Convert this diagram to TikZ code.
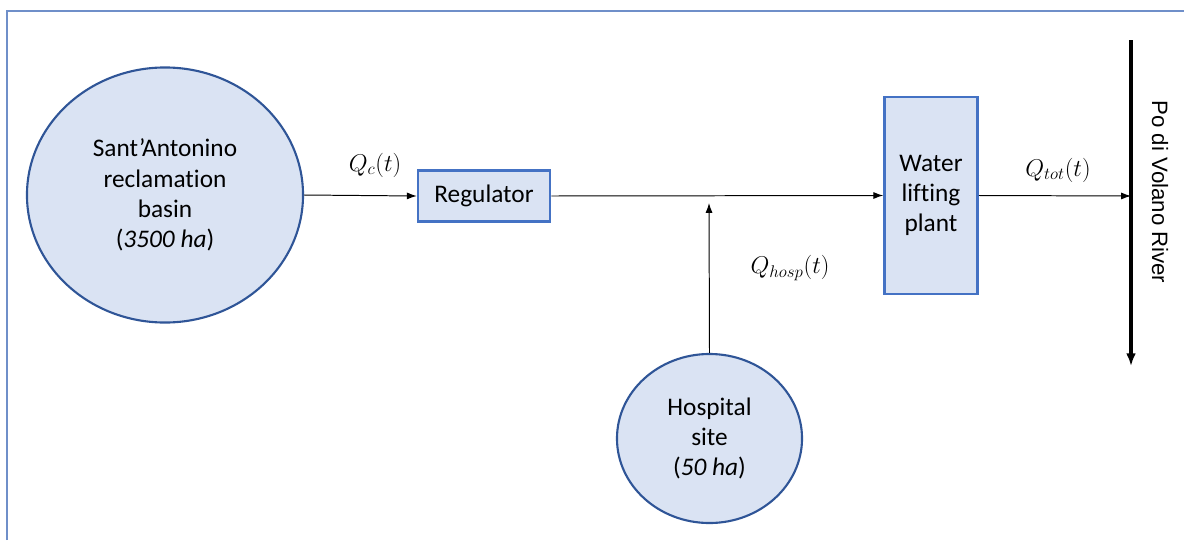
\documentclass[tikz,border=0pt]{standalone}
\usepackage{amsmath}
\usepackage{fontspec}
\setmainfont{Carlito}[Ligatures=NoCommon]
\newfontfamily\riverfont{Liberation Sans}
\usetikzlibrary{shapes.geometric,arrows.meta}

\definecolor{boxfill}{HTML}{DAE3F3}
\definecolor{circline}{HTML}{2F5597}
\definecolor{boxline}{HTML}{4472C4}
\definecolor{frameline}{HTML}{6F8FC9}

\tikzset{
	area/.style={ellipse,draw=circline,line width=1.5pt,fill=boxfill,inner sep=0pt,
		align=center,font=\fontsize{18}{21.5}\selectfont},
	unit/.style={rectangle,draw=boxline,line width=1.8pt,fill=boxfill,inner sep=0pt,
		align=center,font=\fontsize{18}{21.5}\selectfont},
	flow/.style={line width=0.7pt,-{Latex[length=7pt,width=5pt]}},
	flowlabel/.style={font=\fontsize{16.5}{19}\selectfont}
}

\begin{document}
\begin{tikzpicture}[x=0.025cm,y=-0.025cm]
		\useasboundingbox (0,0) rectangle (1184,540);
		% frame (cut at right and bottom)
		\draw[frameline,line width=1pt] (7,540) -- (7,11) -- (1184,11);
		% catchments
		\node[area,minimum width=6.9cm,minimum height=6.375cm] (basin) at (165,195)
			{Sant’Antonino\\reclamation\\basin\\(\textit{3500 ha})};
		\node[area,minimum width=4.625cm,minimum height=4.225cm] (hosp) at (709.5,438.5)
			{Hospital\\site\\(\textit{50 ha})};
		% plants
		\node[unit,minimum width=3.3cm,minimum height=1.275cm] (reg) at (484,196) {Regulator};
		\node[unit,minimum width=2.325cm,minimum height=4.925cm] (plant) at (931,195.5)
			{Water\\lifting\\plant};
		% river
		\coordinate (rivertop) at (1131,40);
		\coordinate (riverbot) at (1131,366);
		\coordinate (riverin) at (1131,196);
		\draw[line width=2.2pt,-{Latex[length=9pt,width=7pt]}] (rivertop) -- (riverbot);
		\node[rotate=-90,font=\riverfont\fontsize{15.8}{18}\selectfont] (rivername) at (1160,192)
			{Po di Volano River};
		% flows
		\coordinate (junction) at (709,203);
		\draw[flow] (basin.east) -- (reg.west);
		\draw[flow] (reg.east) -- (plant.west);
		\draw[flow] (plant.east) -- (riverin);
		\draw[flow] (hosp.north) -- (junction);
		\node[flowlabel] (qc) at (375,165) {$Q_c(t)$};
		\node[flowlabel] (qhosp) at (790,268) {$Q_{hosp}(t)$};
		\node[flowlabel] (qtot) at (1058,170) {$Q_{tot}(t)$};
	\end{tikzpicture}
\end{document}
